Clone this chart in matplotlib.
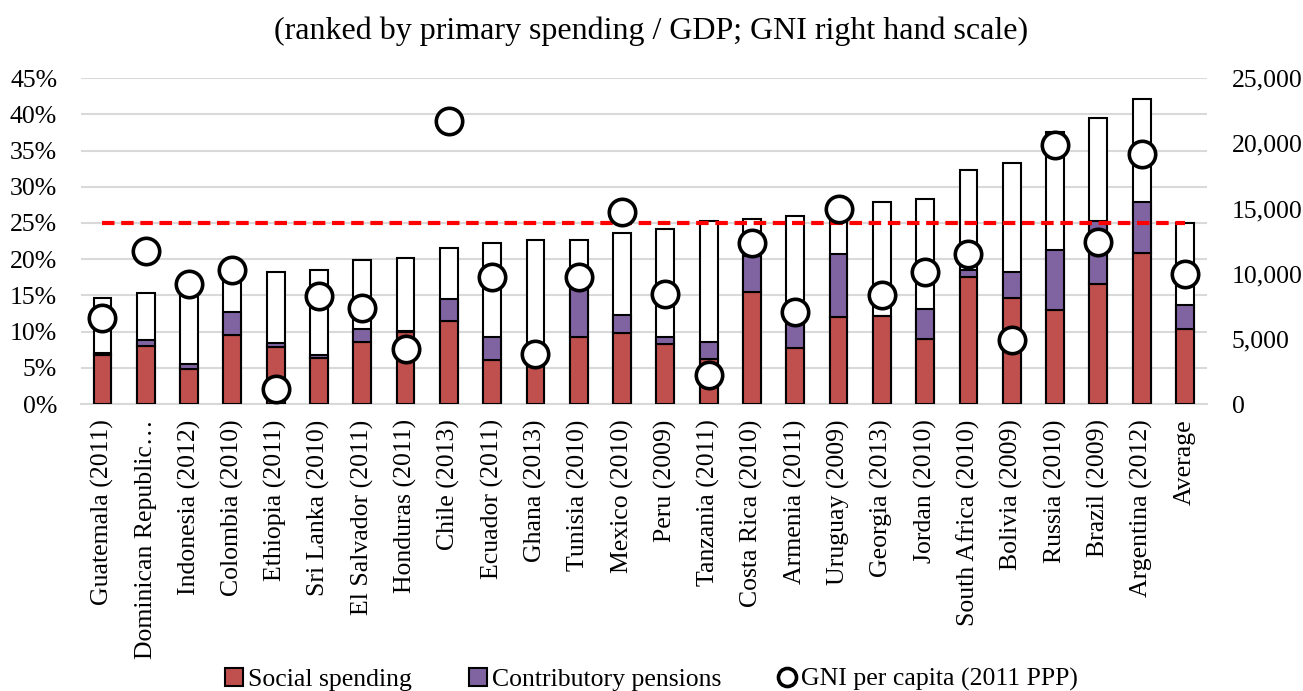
import numpy as np
import matplotlib
matplotlib.use('Agg')
import matplotlib.pyplot as plt
from matplotlib.lines import Line2D
from matplotlib.patches import Patch

plt.rcParams['font.family'] = ['Liberation Serif', 'DejaVu Serif']

# data (% of GDP, GNI in 2011 PPP)
countries = ['Guatemala (2011)', 'Dominican Republic\u2026', 'Indonesia (2012)', 'Colombia (2010)',
             'Ethiopia (2011)', 'Sri Lanka (2010)', 'El Salvador (2011)', 'Honduras (2011)',
             'Chile (2013)', 'Ecuador (2011)', 'Ghana (2013)', 'Tunisia (2010)', 'Mexico (2010)',
             'Peru (2009)', 'Tanzania (2011)', 'Costa Rica (2010)', 'Armenia (2011)',
             'Uruguay (2009)', 'Georgia (2013)', 'Jordan (2010)', 'South Africa (2010)',
             'Bolivia (2009)', 'Russia (2010)', 'Brazil (2009)', 'Argentina (2012)', 'Average']
primary = [14.7, 15.3, 15.9, 17.6, 18.2, 18.5, 19.9, 20.2, 21.6, 22.2, 22.6, 22.7, 23.6,
           24.2, 25.3, 25.6, 25.9, 26.2, 27.9, 28.3, 32.3, 33.3, 37.5, 39.5, 42.1, 25.0]
social = [6.8, 8.0, 4.8, 9.5, 7.9, 6.4, 8.6, 10.0, 11.5, 6.1, 5.8, 9.2, 9.8,
          8.3, 6.2, 15.4, 7.8, 12.0, 12.1, 9.0, 17.6, 14.7, 13.0, 16.6, 20.9, 10.4]
pensions = [0.3, 0.85, 0.7, 3.2, 0.5, 0.4, 1.7, 0.15, 3.0, 3.1, 0.0, 6.8, 2.5,
            0.95, 2.4, 5.0, 4.0, 8.7, 0.0, 4.1, 0.9, 3.5, 8.2, 8.7, 7.05, 3.3]
gni = [6580, 11740, 9200, 10280, 1150, 8290, 7390, 4200, 21700, 9770, 3840, 9750, 14760,
       8440, 2200, 12340, 7060, 14950, 8370, 10150, 11540, 4910, 19880, 12460, 19180, 10000]
benchmark = 25

red = '#C0504D'
purple = '#8064A2'

x = np.arange(len(countries))
fig = plt.figure(figsize=(13.03, 6.91), dpi=100)
ax = fig.add_axes([0.062, 0.4153, 0.864, 0.4717])

w = 0.41
ax.bar(x, primary, w, color='white', edgecolor='black', linewidth=1.5, zorder=2)
ax.bar(x, social, w, color=red, edgecolor='black', linewidth=1.5, zorder=3)
ax.bar(x, pensions, w, bottom=social, color=purple, edgecolor='black', linewidth=1.5, zorder=3)
ax.plot([x[0], x[-1]], [benchmark, benchmark], color='#FF0000', linestyle=(0, (3, 1.6)),
        linewidth=3, zorder=4)

ax.set_ylim(0, 45)
ax.set_xlim(-0.5, len(countries) - 0.5)
ax.set_yticks(np.arange(0, 46, 5))
ax.set_yticklabels([f'{v}%' for v in range(0, 46, 5)], fontsize=18.5)
ax.set_xticks(x)
ax.set_xticklabels(countries, rotation=90, fontsize=18.5, va='top')
ax.tick_params(axis='x', length=0, pad=11)
ax.tick_params(axis='y', length=0, pad=17)
ax.grid(axis='y', color='#D9D9D9', linewidth=1.5, zorder=0)
ax.set_axisbelow(True)
for s in ['top', 'right', 'left']:
    ax.spines[s].set_visible(False)
ax.spines['bottom'].set_color('#D9D9D9')
ax.spines['bottom'].set_linewidth(1.5)

ax2 = ax.twinx()
ax2.plot(x, gni, 'o', markersize=19, markerfacecolor='white', markeredgecolor='black',
         markeredgewidth=2.6, zorder=5)
ax2.set_ylim(0, 25000)
ax2.set_yticks(np.arange(0, 25001, 5000))
ax2.set_yticklabels([f'{v:,}' for v in range(0, 25001, 5000)], fontsize=18.5)
ax2.tick_params(length=0, pad=18)
for s in ax2.spines.values():
    s.set_visible(False)

fig.text(0.5, 0.955, '(ranked by primary spending / GDP; GNI right hand scale)',
         ha='center', va='center', fontsize=23)

handles = [Patch(facecolor=red, edgecolor='black', linewidth=1.5),
           Patch(facecolor=purple, edgecolor='black', linewidth=1.5),
           Line2D([], [], marker='o', linestyle='none', markersize=13, markerfacecolor='white',
                  markeredgecolor='black', markeredgewidth=2.6)]
fig.legend(handles, ['Social spending', 'Contributory pensions', 'GNI per capita (2011 PPP)'],
           loc='center', bbox_to_anchor=(0.5, 0.017), ncol=3, frameon=False, fontsize=18.5,
           handlelength=0.7, handletextpad=0.2, columnspacing=2.2)

fig.savefig('out.png', dpi=100)
